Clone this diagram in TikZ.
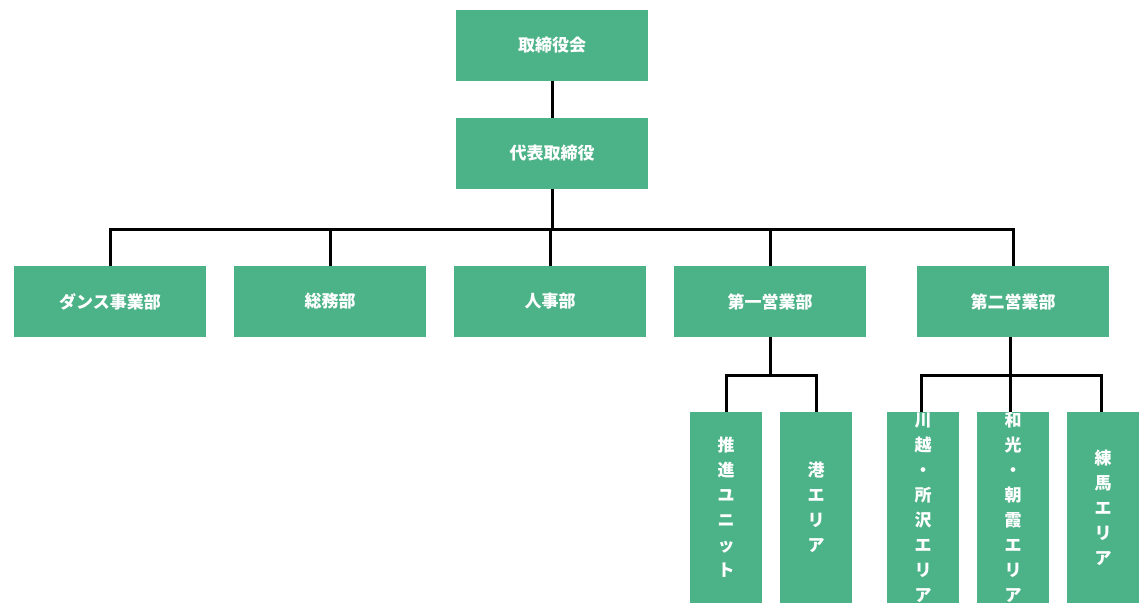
\documentclass[tikz,border=0pt]{standalone}
\usepackage{fontspec}
\newfontfamily\cjk{Noto Sans CJK JP}
\begin{document}
\begin{tikzpicture}[x=1pt,y=-1pt,
  box/.style={fill=boxc,draw=none,text=white,font=\cjk\bfseries\fontsize{17}{25}\selectfont,align=center,inner sep=0pt},
  ln/.style={line width=3pt,black}]
\definecolor{boxc}{HTML}{4CB287}
\useasboundingbox (0,0) rectangle (1147,614);
\node[box,minimum width=192,minimum height=71] (a) at (552,45.5) {取締役会};
\node[box,minimum width=192,minimum height=71] (b) at (552,153.5) {代表取締役};
\foreach \n/\x/\t in {d1/110/ダンス事業部,d2/330/総務部,d3/550/人事部,d4/770/第一営業部,d5/1013/第二営業部}
  \node[box,minimum width=192,minimum height=71] (\n) at (\x,301.5) {\t};
\foreach \n/\x/\t in {s1/726/推\\進\\ユ\\ニ\\ッ\\ト,s2/816/港\\エ\\リ\\ア,s3/923/川\\越\\・\\所\\沢\\エ\\リ\\ア,s4/1013/和\\光\\・\\朝\\霞\\エ\\リ\\ア,s5/1103/練\\馬\\エ\\リ\\ア}
  \node[box,minimum width=72,minimum height=191] (\n) at (\x,507.5) {\t};
\coordinate (h) at (552,229);
\coordinate (m1) at (770,375);
\coordinate (m2) at (1010,375);
\draw[ln] (a.south) -- (b.north);
\draw[ln] (b.south) -- (h);
\draw[ln] (d1.north) |- (d5.north |- h) -- (d5.north);
\foreach \n in {d2,d3,d4} \draw[ln] (\n.north) -- (\n.north |- h);
\draw[ln] (d4.south) -- (m1);
\draw[ln] (s1.north) |- (m1) -| (s2.north);
\draw[ln] (m2 |- d5.south) -- (m2) -- (m2 |- s4.north);
\draw[ln] (s3.north -| 921,0) |- (m2) -| (s5.north -| 1101,0);
\end{tikzpicture}
\end{document}
